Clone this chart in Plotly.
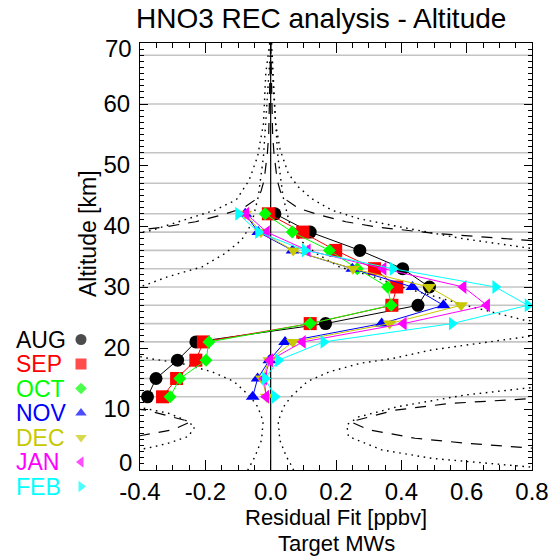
import plotly.graph_objects as go

W, H = 553, 559
FX0, FX1, FY0, FY1 = 140, 532, 43, 470  # frame of the plot in pixels
FONT = "Liberation Sans, Arial, Helvetica, sans-serif"

# ---------------- data ----------------
ALT = [12, 15, 18, 21, 24, 27, 30, 33, 36, 39, 42]
MONTHS = ["AUG", "SEP", "OCT", "NOV", "DEC", "JAN", "FEB"]
AUG = [-0.377, -0.351, -0.285, -0.229, 0.168, 0.451, 0.486, 0.404, 0.273, 0.121, 0.013]
SEP = [-0.331, -0.288, -0.229, -0.206, 0.121, 0.371, 0.386, 0.318, 0.199, 0.098, -0.007]
OCT = [-0.308, -0.278, -0.198, -0.189, 0.121, 0.369, 0.358, 0.265, 0.180, 0.066, -0.017]
NOV = [-0.055, -0.040, -0.004, 0.044, 0.340, 0.529, 0.434, 0.250, 0.067, -0.038, -0.078]
DEC = [-0.012, -0.027, -0.004, 0.068, 0.364, 0.583, 0.485, 0.252, 0.069, -0.030, -0.078]
JAN = [-0.014, -0.020, -0.002, 0.098, 0.407, 0.662, 0.590, 0.345, 0.113, -0.012, -0.075]
FEB = [0.013, -0.017, 0.024, 0.162, 0.555, 0.787, 0.688, 0.374, 0.105, -0.038, -0.099]
SERIES = [AUG, SEP, OCT, NOV, DEC, JAN, FEB]
COLORS = ["#000000", "#ff0000", "#00ff00", "#0000ff", "#c8c800", "#ff00ff", "#00ffff"]
SYMBOLS = ["circle", "square", "diamond", "triangle-up", "triangle-down",
           "triangle-left", "triangle-right"]
MSIZE = [13, 13, 10, 12, 12, 12, 12]
LSIZE = [11, 11, 9, 10, 10, 10, 10]

GRID_ALT = [12, 15, 18, 21, 24, 27, 30, 33, 36, 39, 42, 47, 52, 60, 68]

# envelope curves
DOTO_R_ALT = [70, 65, 60, 56.8, 52.5, 48.6, 46.4, 44.5, 42.6, 41.2, 39.9, 38, 36.3, 34, 28,
              20, 16, 13.4, 12.3, 10.4, 8.7, 7.4, 5.5, 3.3, 1.9, 0.8, 0]
DOTO_R_X = [0.003, 0.008, 0.011, 0.015, 0.029, 0.054, 0.085, 0.125, 0.187, 0.27, 0.391, 0.58,
            0.8, 1.2, 2.0, 2.0, 1.3, 0.78, 0.596, 0.391, 0.269, 0.233, 0.238, 0.34, 0.494,
            0.718, 0.9]
DOTO_L_ALT = [70, 65, 56.8, 51.4, 47.5, 44.3, 42.6, 41, 39.3, 38.9, 37, 30, 16, 12, 10.1, 9.3,
              8.2, 7.1, 5.5, 4.4, 3.6, 2.5]
DOTO_L_X = [-0.003, -0.015, -0.022, -0.04, -0.066, -0.105, -0.17, -0.262, -0.364, -0.4, -0.6,
            -1.5, -1.5, -0.6, -0.385, -0.313, -0.262, -0.232, -0.252, -0.313, -0.375, -0.5]
DASH_ALT = [70, 60, 55, 52, 47.5, 45.6, 44.2, 42.9, 41.8, 40.7, 39.8, 38.8, 37.7, 36, 28, 16,
            13, 11.7, 10.9, 9.8, 7.9, 6.6, 5.2, 4.4, 3.6, 2]
DASH_X = [0.0, 0.003, 0.006, 0.01, 0.02, 0.03, 0.05, 0.085, 0.15, 0.23, 0.33, 0.5, 0.79, 1.2,
          2.0, 2.0, 1.2, 0.78, 0.545, 0.38, 0.245, 0.30, 0.442, 0.596, 0.78, 1.2]
DOTI_ALT = [70, 67.8, 59.6, 51.4, 44.8, 40.4, 37.7, 35.5, 33.3, 31.7, 30, 28.5, 26.8, 24.6,
            23.5, 22.5, 21.9, 19.7, 18.3, 17.5, 16.1, 14.5, 12, 10.4, 8, 4.9, 2.2, 0.5, 0]
DOTI_X = [0.002, 0.002, 0.012, 0.022, 0.038, 0.058, 0.089, 0.14, 0.21, 0.314, 0.4, 0.5, 0.611,
          0.774, 1.0, 1.0, 0.79, 0.494, 0.375, 0.275, 0.18, 0.112, 0.062, 0.04, 0.023, 0.028,
          0.048, 0.066, 0.07]

XTICKS = [-0.4, -0.2, 0.0, 0.2, 0.4, 0.6, 0.8]
XTICKTEXT = ["-0.4", "-0.2", "0.0", "0.2", "0.4", "0.6", "0.8"]
YTICKS = [0, 10, 20, 30, 40, 50, 60, 70]
YTICKTEXT = ["", "10", "20", "30", "40", "50", "60", ""]   # end labels drawn nudged inward
YEND_LABELS = [("0", 462), ("70", 48)]

LEG_Y = [339.5, 364, 388.5, 413, 437.5, 462, 486.5]

fig = go.Figure()

DOT = "1.6px,4.6px"
DASHED = "11px,9px"

fig.add_trace(go.Scatter(x=DOTO_R_X, y=DOTO_R_ALT, mode="lines",
                         line=dict(color="black", width=1.4, dash=DOT)))
fig.add_trace(go.Scatter(x=DOTO_L_X, y=DOTO_L_ALT, mode="lines",
                         line=dict(color="black", width=1.4, dash=DOT)))
fig.add_trace(go.Scatter(x=DOTI_X, y=DOTI_ALT, mode="lines",
                         line=dict(color="black", width=1.4, dash=DOT)))
fig.add_trace(go.Scatter(x=[-v for v in DOTI_X], y=DOTI_ALT, mode="lines",
                         line=dict(color="black", width=1.4, dash=DOT)))
fig.add_trace(go.Scatter(x=DASH_X, y=DASH_ALT, mode="lines",
                         line=dict(color="black", width=1.2, dash=DASHED)))
fig.add_trace(go.Scatter(x=[-v for v in DASH_X], y=DASH_ALT, mode="lines",
                         line=dict(color="black", width=1.2, dash=DASHED)))
# zero line
fig.add_trace(go.Scatter(x=[0, 0], y=[0, 70], mode="lines",
                         line=dict(color="black", width=1.2)))

for name, vals, col, sym, ms in zip(MONTHS, SERIES, COLORS, SYMBOLS, MSIZE):
    fig.add_trace(go.Scatter(x=vals, y=ALT, mode="lines+markers", name=name,
                             line=dict(color=col, width=1),
                             marker=dict(color=col, symbol=sym, size=ms,
                                         line=dict(width=0))))

# legend markers on a pixel-space axis that spans the whole figure
fig.add_trace(go.Scatter(x=[81] * len(MONTHS), y=LEG_Y, mode="markers",
                         xaxis="x2", yaxis="y2", cliponaxis=False,
                         marker=dict(color=COLORS, symbol=SYMBOLS, size=LSIZE,
                                     line=dict(width=0))))

annotations = []
for name, col, yy in zip(MONTHS, COLORS, LEG_Y):
    annotations.append(dict(x=14, y=yy, xref="x2", yref="y2", text=name, showarrow=False,
                            xanchor="left", yanchor="middle",
                            font=dict(family=FONT, size=23, color=col)))
for txt, yy in YEND_LABELS:
    annotations.append(dict(x=134, y=yy, xref="x2", yref="y2", text=txt, showarrow=False,
                            xanchor="right", yanchor="middle",
                            font=dict(family=FONT, size=24, color="black")))
annotations.append(dict(x=321, y=18, xref="x2", yref="y2",
                        text="HNO3 REC analysis - Altitude", showarrow=False,
                        xanchor="center", yanchor="middle",
                        font=dict(family=FONT, size=28, color="black")))
annotations.append(dict(x=336, y=517, xref="x2", yref="y2", text="Residual Fit [ppbv]",
                        showarrow=False, xanchor="center", yanchor="middle",
                        font=dict(family=FONT, size=22, color="black")))
annotations.append(dict(x=336, y=543, xref="x2", yref="y2", text="Target MWs",
                        showarrow=False, xanchor="center", yanchor="middle",
                        font=dict(family=FONT, size=22, color="black")))
annotations.append(dict(x=88, y=234, xref="x2", yref="y2", text="Altitude [km]",
                        showarrow=False, textangle=-90, xanchor="center", yanchor="middle",
                        font=dict(family=FONT, size=23, color="black")))

shapes = []
for g in GRID_ALT:
    shapes.append(dict(type="line", xref="x domain", yref="y", x0=0, x1=1, y0=g, y1=g,
                       line=dict(color="#c4c4c4", width=1.6), layer="below"))

fig.update_layout(
    width=W, height=H,
    margin=dict(l=0, r=0, t=0, b=0, pad=0),
    paper_bgcolor="white", plot_bgcolor="rgba(0,0,0,0)",
    showlegend=False,
    annotations=annotations, shapes=shapes,
    xaxis=dict(domain=[FX0 / W, FX1 / W], range=[-0.4, 0.8], tickmode="array",
               tickvals=XTICKS, ticktext=XTICKTEXT, ticks="inside", ticklen=10,
               tickwidth=1, tickcolor="black", showline=True, linecolor="black",
               linewidth=1.2, mirror="ticks", showgrid=False, zeroline=False,
               automargin=False, ticklabelstandoff=0, anchor="y",
               tickfont=dict(family=FONT, size=24, color="black"),
               minor=dict(tickmode="linear", tick0=-0.4, dtick=0.05, ticks="inside",
                          ticklen=5, tickcolor="black", tickwidth=1, showgrid=False)),
    yaxis=dict(domain=[(H - FY1) / H, (H - FY0) / H], range=[0, 70], tickmode="array",
               tickvals=YTICKS, ticktext=YTICKTEXT, ticks="inside", ticklen=8, tickwidth=1,
               tickcolor="black", showline=True, linecolor="black", linewidth=1.2,
               mirror="ticks", showgrid=False, zeroline=False, automargin=False,
               ticklabelstandoff=4, anchor="x",
               tickfont=dict(family=FONT, size=24, color="black"),
               minor=dict(tickmode="linear", tick0=0, dtick=1, ticks="inside", ticklen=4,
                          tickcolor="black", tickwidth=1, showgrid=False)),
    xaxis2=dict(domain=[0, 1], range=[0, W], visible=False, anchor="y2", fixedrange=True,
                showgrid=False, zeroline=False),
    yaxis2=dict(domain=[0, 1], range=[H, 0], visible=False, anchor="x2", fixedrange=True,
                showgrid=False, zeroline=False),
)

fig.write_html("out.html")
